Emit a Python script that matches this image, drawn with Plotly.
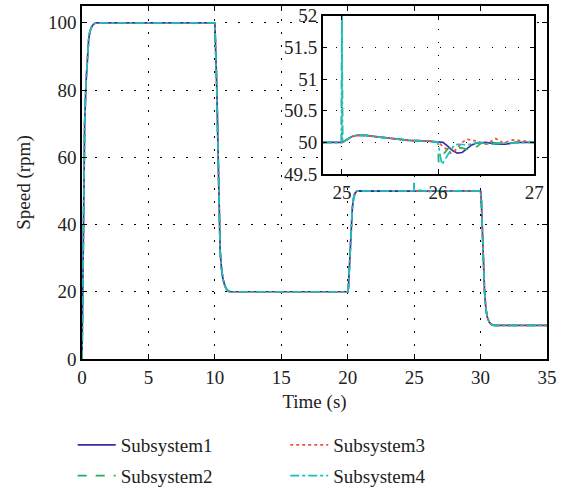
import plotly.graph_objects as go

# Shared speed profile (rpm) outside the 24.8-27 s window
head_time = [0, 0.05, 0.1, 0.15, 0.2, 0.3, 0.4, 0.5, 0.6, 0.75, 0.9, 1.1,
             10.0, 10.08, 10.15, 10.25, 10.32, 10.4, 10.5, 10.6, 10.75, 10.9, 11.1,
             20.0, 20.05, 20.15, 20.25, 20.35, 20.45, 20.55, 20.7]
head_speed = [0, 15, 40, 58, 70, 82, 90, 95, 97.5, 99, 99.7, 100,
              100, 92, 80, 60, 40, 32, 27, 24, 21.8, 20.6, 20,
              20, 21, 28, 38, 45, 48, 49.3, 50]
tail_time = [30.0, 30.06, 30.12, 30.2, 30.3, 30.4, 30.5, 30.65, 30.8, 31.0, 35]
tail_speed = [50, 47, 40, 30, 20, 15, 12.5, 11, 10.3, 10, 10]

# Detail around the load disturbances (24.8-27 s)
s1_time = [24.8, 25.0, 25.05, 25.1, 25.15, 25.25, 25.35, 25.5, 25.7, 25.9, 26.0, 26.05,
           26.1, 26.15, 26.2, 26.25, 26.3, 26.35, 26.4, 26.5, 26.6, 26.7, 26.8, 27.0]
s1_speed = [50, 50, 50.04, 50.09, 50.11, 50.11, 50.09, 50.06, 50.03, 50.02, 50.01, 50.0,
            49.94, 49.87, 49.83, 49.84, 49.9, 49.96, 49.99, 50.0, 49.97, 49.97, 50.0, 50.0]

s2_time = [24.8, 24.995, 25.0, 25.006, 25.05, 25.1, 25.15, 25.25, 25.35, 25.5, 25.7, 25.9,
           26.0, 26.005, 26.03, 26.1, 26.17, 26.25, 26.33, 26.4, 26.45, 26.55, 26.7, 26.85, 27.0]
s2_speed = [50, 50, 52.4, 50.0, 50.04, 50.09, 50.11, 50.11, 50.09, 50.06, 50.03, 50.02,
            50.0, 49.69, 49.76, 49.9, 49.93, 49.91, 49.88, 49.93, 49.99, 50.0, 49.98, 50.0, 50.0]

s3_time = [24.8, 25.0, 25.05, 25.1, 25.15, 25.25, 25.35, 25.5, 25.7, 25.9, 26.0,
           26.08, 26.13, 26.18, 26.25, 26.3, 26.4, 26.5, 26.6, 26.68, 26.78, 26.9, 27.0]
s3_speed = [50, 50, 50.04, 50.09, 50.11, 50.11, 50.09, 50.06, 50.03, 50.02, 50.0,
            49.9, 49.83, 49.88, 50.0, 50.05, 50.02, 49.97, 50.06, 49.99, 50.04, 50.02, 50.0]

s4_time = [24.8, 24.995, 25.0, 25.006, 25.05, 25.1, 25.15, 25.25, 25.35, 25.5, 25.7, 25.9,
           26.0, 26.02, 26.04, 26.1, 26.17, 26.22, 26.3, 26.42, 26.55, 26.7, 26.85, 27.0]
s4_speed = [50, 50, 52.4, 50.0, 50.04, 50.09, 50.11, 50.11, 50.09, 50.06, 50.03, 50.02,
            50.0, 49.8, 49.65, 49.8, 49.96, 49.97, 49.96, 50.0, 49.97, 49.99, 50.0, 50.0]

names = ["Subsystem1", "Subsystem2", "Subsystem3", "Subsystem4"]
colors = ["#3a2fa0", "#1fae5f", "#f0503a", "#19bfc0"]
dashes = ["solid", "dash", "dot", "dashdot"]
legends = ["legend", "legend", "legend2", "legend2"]
detail = [(s1_time, s1_speed), (s2_time, s2_speed), (s3_time, s3_speed), (s4_time, s4_speed)]

FONT = "Liberation Serif"
TXT = "#222222"
GRID_DASH = "1.5px,11.5px"

fig = go.Figure()
for name, color, dash, leg, (dt, dv) in zip(names, colors, dashes, legends, detail):
    t = head_time + dt + tail_time
    v = head_speed + dv + tail_speed
    fig.add_trace(go.Scatter(x=t, y=v, mode="lines", name=name, legend=leg, legendgroup=name,
                             line=dict(color=color, width=1.7, dash=dash),
                             xaxis="x", yaxis="y"))
for name, color, dash, (dt, dv) in zip(names, colors, dashes, detail):
    fig.add_trace(go.Scatter(x=dt, y=dv, mode="lines", name=name, showlegend=False,
                             line=dict(color=color, width=1.7, dash=dash),
                             xaxis="x2", yaxis="y2"))

axis_common = dict(showline=True, linecolor="black", linewidth=1.5, mirror="ticks",
                   ticks="inside", ticklen=5, tickcolor="black", tickwidth=1,
                   showgrid=True, gridcolor="black", gridwidth=1.2, griddash=GRID_DASH,
                   zeroline=False, tickfont=dict(family=FONT, size=19, color=TXT))

legend_style = dict(xanchor="left", yanchor="top", y=-0.19,
                    font=dict(family=FONT, size=19, color=TXT), bgcolor="rgba(0,0,0,0)",
                    tracegroupgap=3, itemwidth=38)

fig.update_layout(
    width=571, height=490,
    margin=dict(l=82, r=24, t=6, b=131, autoexpand=False),
    paper_bgcolor="white", plot_bgcolor="white",
    font=dict(family=FONT, size=19, color=TXT),
    xaxis=dict(range=[0, 35], tickvals=[0, 5, 10, 15, 20, 25, 30, 35],
               title=dict(text="Time (s)", font=dict(family=FONT, size=19, color=TXT), standoff=8),
               **axis_common),
    yaxis=dict(range=[0, 105], tickvals=[0, 20, 40, 60, 80, 100],
               title=dict(text="Speed (rpm)", font=dict(family=FONT, size=19, color=TXT), standoff=12),
               **axis_common),
    xaxis2=dict(domain=[0.5176, 0.9727], anchor="y2", range=[24.8, 27],
                tickvals=[25, 26, 27], **axis_common),
    yaxis2=dict(domain=[0.524, 0.9725], anchor="x2", range=[49.5, 52],
                tickvals=[49.5, 50, 50.5, 51, 51.5, 52],
                ticktext=["49.5", "50", "50.5", "51", "51.5", "52"], **axis_common),
    shapes=[dict(type="rect", xref="x2 domain", yref="y2 domain", x0=0, x1=1, y0=0, y1=1,
                 fillcolor="white", line=dict(width=0), layer="below")],
    legend=dict(x=-0.02, **legend_style),
    legend2=dict(x=0.437, **legend_style),
)

fig.write_html("out.html")
